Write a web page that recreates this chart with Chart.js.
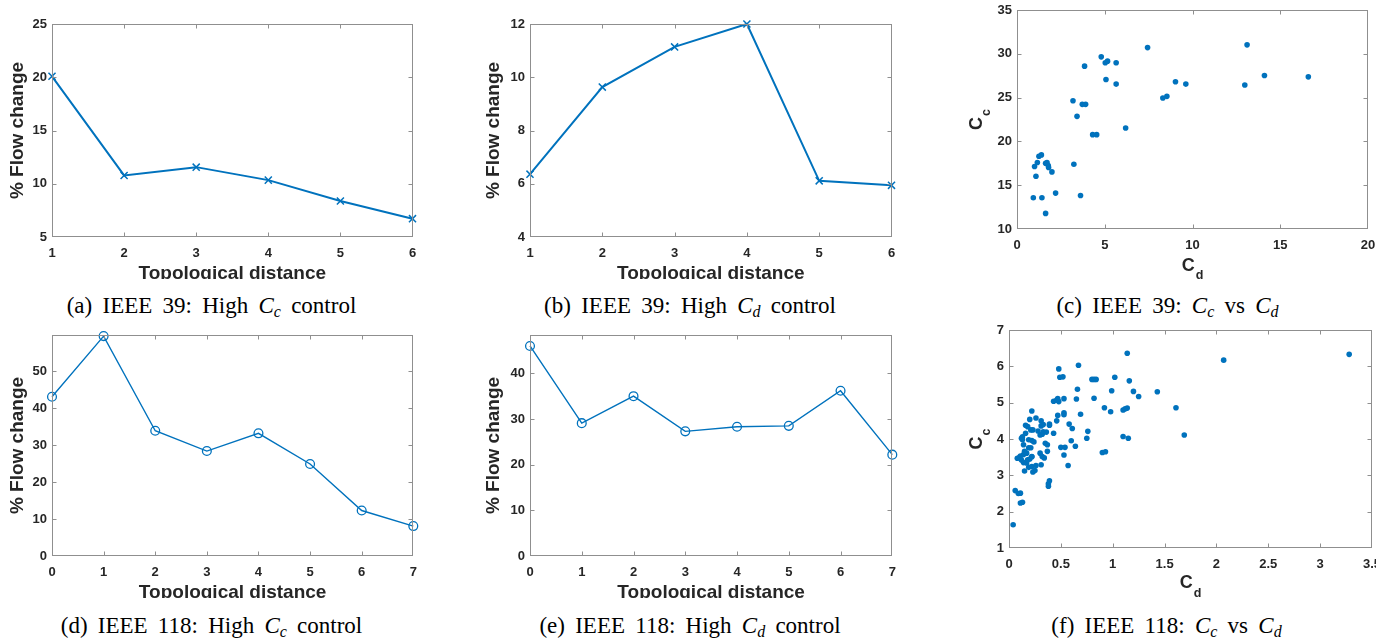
<!DOCTYPE html>
<html>
<head>
<meta charset="utf-8">
<script src="https://cdn.jsdelivr.net/npm/chart.js@4.4.1/dist/chart.umd.min.js"></script>
<style>
html,body{margin:0;padding:0;background:#fff;width:1390px;height:639px;overflow:hidden;}
.cv{position:absolute;display:block;}
.cap{position:absolute;width:420px;text-align:center;font-family:"Liberation Serif","Times New Roman",serif;font-size:23px;color:#000;white-space:nowrap;word-spacing:4.5px;line-height:1;}
.cap i{font-style:italic;}
.cap sub{font-size:16px;vertical-align:-4px;line-height:0;}
</style>
</head>
<body>
<canvas id="ca" class="cv" width="419" height="279" style="left:0px;top:0px"></canvas>
<canvas id="cb" class="cv" width="438" height="279" style="left:460px;top:0px"></canvas>
<canvas id="cc" class="cv" width="460" height="279" style="left:920px;top:0px"></canvas>
<canvas id="cd" class="cv" width="419" height="278" style="left:0px;top:320px"></canvas>
<canvas id="ce" class="cv" width="438" height="278" style="left:460px;top:320px"></canvas>
<canvas id="cf" class="cv" width="456" height="278" style="left:920px;top:320px"></canvas>

<div class="cap" style="left:1.5px;top:294px">(a) IEEE 39: High <i>C</i><sub><i>c</i></sub> control</div>
<div class="cap" style="left:480px;top:294px">(b) IEEE 39: High <i>C</i><sub><i>d</i></sub> control</div>
<div class="cap" style="left:957.5px;top:294px">(c) IEEE 39: <i>C</i><sub><i>c</i></sub> vs <i>C</i><sub><i>d</i></sub></div>
<div class="cap" style="left:1.5px;top:614px">(d) IEEE 118: High <i>C</i><sub><i>c</i></sub> control</div>
<div class="cap" style="left:480px;top:614px">(e) IEEE 118: High <i>C</i><sub><i>d</i></sub> control</div>
<div class="cap" style="left:956.5px;top:614px">(f) IEEE 118: <i>C</i><sub><i>c</i></sub> vs <i>C</i><sub><i>d</i></sub></div>

<script>
// ---------------- data ----------------
const distA = [1, 2, 3, 4, 5, 6];
const flowA = [20.09, 10.78, 11.56, 10.34, 8.38, 6.72];

const distB = [1, 2, 3, 4, 5, 6];
const flowB = [6.36, 9.63, 11.14, 12.0, 6.11, 5.94];

const distD = [0, 1, 2, 3, 4, 5, 6, 7];
const flowD = [43.1, 59.5, 33.9, 28.4, 33.2, 24.9, 12.3, 8.1];

const distE = [0, 1, 2, 3, 4, 5, 6, 7];
const flowE = [46.0, 29.1, 35.0, 27.3, 28.3, 28.5, 36.2, 22.2];

// IEEE 39: degree centrality (x) vs closeness centrality (y)
const cd39 = [0.93, 1.00, 1.08, 1.16, 1.25, 1.39, 1.42, 1.63, 1.63, 1.71,
              1.78, 1.80, 1.99, 2.20, 3.19, 3.24, 3.42, 3.62, 3.72, 3.91,
              3.85, 4.31, 4.54, 4.80, 5.03, 5.16, 5.07, 5.65, 5.65, 6.19,
              7.44, 8.31, 8.54, 9.03, 9.62, 12.98, 13.11, 14.10, 16.60];
const cc39 = [13.57, 17.13, 16.03, 17.59, 18.31, 18.46, 13.57, 11.78, 17.51, 17.59,
              17.25, 17.02, 16.52, 14.10, 24.64, 17.40, 22.86, 13.83, 24.23, 24.23,
              28.59, 20.77, 20.77, 29.65, 28.97, 29.16, 27.07, 28.97, 26.54, 21.53,
              30.71, 24.95, 25.14, 26.81, 26.54, 26.43, 31.02, 27.53, 27.37];

// IEEE 118
const cd118 = [0.04, 0.06, 0.09, 0.11, 0.11, 0.13, 0.38, 0.39, 0.38, 0.08,
               0.10, 0.11, 0.12, 0.13, 0.14, 0.14, 0.14, 0.15, 0.16, 0.16,
               0.17, 0.17, 0.18, 0.19, 0.19, 0.20, 0.20, 0.21, 0.21, 0.22,
               0.22, 0.22, 0.22, 0.22, 0.23, 0.23, 0.25, 0.26, 0.26, 0.30,
               0.30, 0.31, 0.31, 0.31, 0.32, 0.32, 0.33, 0.33, 0.35, 0.36,
               0.37, 0.37, 0.39, 0.39, 0.43, 0.43, 0.46, 0.46, 0.47, 0.47,
               0.48, 0.48, 0.49, 0.50, 0.52, 0.53, 0.53, 0.53, 0.54, 0.53,
               0.57, 0.58, 0.60, 0.61, 0.64, 0.65, 0.66, 0.67, 0.69, 0.75,
               0.76, 0.80, 0.82, 0.82, 0.84, 0.90, 0.92, 0.93, 0.98, 0.99,
               1.02, 1.10, 1.10, 1.12, 1.14, 1.14, 1.15, 1.16, 1.20, 1.25,
               1.43, 1.61, 1.69, 2.07, 3.28, 0.12, 0.15, 0.18, 0.13, 0.24,
               0.19, 0.28, 0.34];
const cc118 = [1.64, 2.58, 2.50, 2.51, 2.24, 2.26, 2.70, 2.85, 2.77, 3.47,
               3.49, 3.53, 4.02, 4.06, 3.84, 3.57, 3.35, 3.12, 4.38, 4.16,
               3.61, 3.34, 4.34, 3.98, 3.76, 4.54, 3.45, 3.76, 4.25, 3.51,
               4.77, 3.96, 3.52, 3.24, 3.09, 4.25, 3.13, 4.58, 3.27, 3.61,
               4.11, 4.36, 4.50, 3.29, 3.52, 4.13, 4.40, 4.20, 3.88, 4.19,
               3.66, 3.84, 4.41, 4.38, 4.16, 5.04, 5.07, 4.50, 4.65, 5.11,
               5.03, 5.93, 5.70, 3.77, 5.71, 3.56, 4.72, 5.11, 3.77, 4.67,
               3.27, 4.41, 3.95, 4.29, 3.80, 5.10, 5.37, 6.03, 4.68, 4.02,
               4.21, 5.64, 5.12, 5.64, 5.64, 3.63, 4.86, 3.65, 4.75, 5.33,
               5.70, 4.07, 4.80, 4.83, 4.85, 6.36, 4.02, 5.60, 5.31, 5.17,
               5.30, 4.86, 4.11, 6.17, 6.33, 3.42, 3.66, 3.43, 3.98, 3.92,
               3.22, 4.22, 3.48];

// ---------------- style ----------------
const BLUE = '#0072BD';
const INK = '#262626';
const BOX = '#8f8f8f';
const SANS = '"Liberation Sans", Arial, Helvetica, sans-serif';
const TICK_FONT = {family: SANS, size: 13, weight: 'bold'};
const fmt = v => String(Math.round(v * 100) / 100);

function pts(xs, ys) { return xs.map((x, i) => ({x: x, y: ys[i]})); }

// MATLAB-like box with inward ticks on all four sides
const matlabBox = {
  id: 'matlabBox',
  afterDatasetsDraw(chart) {
    const {ctx, chartArea: a, scales} = chart;
    ctx.save();
    ctx.strokeStyle = BOX;
    ctx.lineWidth = 1;
    const L = Math.round(a.left) + 0.5, R = Math.round(a.right) - 0.5;
    const T = Math.round(a.top) + 0.5, B = Math.round(a.bottom) - 0.5;
    ctx.strokeRect(L, T, R - L, B - T);
    const tl = 4;
    ctx.beginPath();
    scales.x.ticks.forEach(t => {
      const p = Math.round(scales.x.getPixelForValue(t.value)) + 0.5;
      if (p <= L + 1 || p >= R - 1) return;
      ctx.moveTo(p, B); ctx.lineTo(p, B - tl);
      ctx.moveTo(p, T); ctx.lineTo(p, T + tl);
    });
    scales.y.ticks.forEach(t => {
      const p = Math.round(scales.y.getPixelForValue(t.value)) + 0.5;
      if (p <= T + 1 || p >= B - 1) return;
      ctx.moveTo(L, p); ctx.lineTo(L + tl, p);
      ctx.moveTo(R, p); ctx.lineTo(R - tl, p);
    });
    ctx.stroke();
    ctx.restore();
  }
};

// Axis titles with subscripts (C_d, C_c)
const subTitles = {
  id: 'subTitles',
  afterDraw(chart, args, o) {
    const {ctx, chartArea: a} = chart;
    const mainF = 'bold 18px ' + SANS, subF = 'bold 12.5px ' + SANS;
    function draw(main, sub, cx, by, rot, drop) {
      ctx.save();
      ctx.fillStyle = INK;
      ctx.textBaseline = 'alphabetic';
      ctx.textAlign = 'left';
      ctx.font = mainF; const w1 = ctx.measureText(main).width;
      ctx.font = subF; const w2 = ctx.measureText(sub).width;
      const tot = w1 + 1 + w2;
      if (rot) { ctx.translate(by, cx); ctx.rotate(-Math.PI / 2); ctx.translate(-tot / 2, 0); }
      else { ctx.translate(cx - tot / 2, by); }
      ctx.font = mainF; ctx.fillText(main, 0, 0);
      ctx.font = subF; ctx.fillText(sub, w1 + 1, drop);
      ctx.restore();
    }
    draw(o.x[0], o.x[1], (a.left + a.right) / 2, a.bottom + o.xOff, false, o.xDrop);
    draw(o.y[0], o.y[1], (a.top + a.bottom) / 2, a.left - o.yOff, true, 8);
  }
};

function build(id, c) {
  const g = c.geo;
  return new Chart(document.getElementById(id), {
    type: c.type,
    data: {datasets: c.datasets},
    options: {
      responsive: false,
      animation: false,
      events: [],
      layout: {padding: {left: 0, top: g.T, right: g.R, bottom: 0}},
      plugins: {
        legend: {display: false},
        tooltip: {enabled: false},
        matlabBox: {},
        subTitles: c.sub || false
      },
      scales: {
        x: {
          type: 'linear', min: c.xr[0], max: c.xr[1],
          ticks: {stepSize: c.xr[2], includeBounds: false, autoSkip: false, maxRotation: 0,
                  font: TICK_FONT, color: INK, padding: 9, callback: fmt},
          grid: {display: false, drawTicks: false},
          border: {display: false},
          title: c.xTitle ? {display: true, text: c.xTitle, color: INK,
                  font: {family: SANS, size: 19, weight: 'bold', lineHeight: 1},
                  padding: {top: 0, bottom: -4}} : {display: false},
          afterFit: s => { s.height = g.H; s.paddingLeft = 0; s.paddingRight = 0; }
        },
        y: {
          type: 'linear', min: c.yr[0], max: c.yr[1],
          ticks: {stepSize: c.yr[2], includeBounds: false, autoSkip: false,
                  font: TICK_FONT, color: INK, padding: 5, callback: fmt},
          grid: {display: false, drawTicks: false},
          border: {display: false},
          title: c.yTitle ? {display: true, text: c.yTitle, color: INK,
                  font: {family: SANS, size: 19, weight: 'bold', lineHeight: 1},
                  padding: {top: c.yPad, bottom: 0}} : {display: false},
          afterFit: s => { s.width = g.W; s.paddingTop = 0; s.paddingBottom = 0; }
        }
      }
    },
    plugins: [matlabBox, subTitles]
  });
}

function lineSet(xs, ys, style) {
  const cross = style === 'x';
  return [{
    data: pts(xs, ys),
    clip: false,
    borderColor: BLUE,
    borderWidth: cross ? 2 : 1.4,
    tension: 0,
    fill: false,
    pointStyle: cross ? 'crossRot' : 'circle',
    pointRadius: cross ? 5 : 4.4,
    pointBorderWidth: cross ? 1.5 : 1.3,
    pointBorderColor: BLUE,
    pointBackgroundColor: 'rgba(0,0,0,0)'
  }];
}
function scatSet(xs, ys) {
  return [{
    data: pts(xs, ys),
    pointStyle: 'circle',
    pointRadius: 2.8,
    pointBorderWidth: 0,
    backgroundColor: BLUE,
    borderColor: BLUE
  }];
}

build('ca', {type: 'line', datasets: lineSet(distA, flowA, 'x'),
  xr: [1, 6, 1], yr: [5, 25, 5], xTitle: 'Topological distance', yTitle: '% Flow change', yPad: 8.2,
  geo: {W: 52, R: 3, T: 24, H: 42}});
build('cb', {type: 'line', datasets: lineSet(distB, flowB, 'x'),
  xr: [1, 6, 1], yr: [4, 12, 2], xTitle: 'Topological distance', yTitle: '% Flow change', yPad: 24.7,
  geo: {W: 70, R: 4, T: 24, H: 42}});
build('cc', {type: 'scatter', datasets: scatSet(cd39, cc39),
  xr: [0, 20, 5], yr: [10, 35, 5],
  sub: {x: ['C', 'd'], y: ['C', 'c'], xOff: 42, yOff: 35, xDrop: 8},
  geo: {W: 97, R: 12, T: 10, H: 50}});
build('cd', {type: 'line', datasets: lineSet(distD, flowD, 'o'),
  xr: [0, 7, 1], yr: [0, 59.8, 10], xTitle: 'Topological distance', yTitle: '% Flow change', yPad: 8.2,
  geo: {W: 52, R: 3, T: 15, H: 42}});
build('ce', {type: 'line', datasets: lineSet(distE, flowE, 'o'),
  xr: [0, 7, 1], yr: [0, 48.4, 10], xTitle: 'Topological distance', yTitle: '% Flow change', yPad: 24.7,
  geo: {W: 70, R: 4, T: 15, H: 42}});
build('cf', {type: 'scatter', datasets: scatSet(cd118, cc118),
  xr: [0, 3.5, 0.5], yr: [1, 7, 1],
  sub: {x: ['C', 'd'], y: ['C', 'c'], xOff: 40, yOff: 27, xDrop: 9},
  geo: {W: 89, R: 4, T: 10, H: 50}});
</script>
</body>
</html>
